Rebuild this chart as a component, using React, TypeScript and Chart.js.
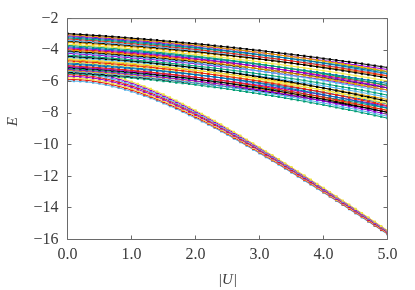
import { useEffect, useRef } from 'react';
import { Chart, registerables } from 'chart.js';

Chart.register(...registerables);

const FONT = '"Liberation Serif", "DejaVu Serif", serif';

// |U| grid
const U = [
  0.0, 0.1, 0.2, 0.3, 0.4, 0.5, 0.6, 0.7, 0.8, 0.9,
  1.0, 1.1, 1.2, 1.3, 1.4, 1.5, 1.6, 1.7, 1.8, 1.9,
  2.0, 2.1, 2.2, 2.3, 2.4, 2.5, 2.6, 2.7, 2.8, 2.9,
  3.0, 3.1, 3.2, 3.3, 3.4, 3.5, 3.6, 3.7, 3.8, 3.9,
  4.0, 4.1, 4.2, 4.3, 4.4, 4.5, 4.6, 4.7, 4.8, 4.9,
  5.0,
];

const X_TICKS = [0, 1, 2, 3, 4, 5];
const X_TICK_LABELS = ['0.0', '1.0', '2.0', '3.0', '4.0', '5.0'];
const Y_TICKS = [-16, -14, -12, -10, -8, -6, -4, -2];
const Y_TICK_LABELS = ['\u221216', '\u221214', '\u221212', '\u221210', '\u22128', '\u22126', '\u22124', '\u22122'];

// upper band
const A1 = [-2.95,-2.98,-3.00,-3.03,-3.06,-3.08,-3.11,-3.14,-3.17,-3.20,-3.24,-3.27,-3.30,-3.34,-3.37,-3.41,-3.44,-3.48,-3.52,-3.56,-3.59,-3.63,-3.67,-3.72,-3.76,-3.80,-3.84,-3.89,-3.93,-3.98,-4.02,-4.07,-4.12,-4.17,-4.22,-4.27,-4.32,-4.37,-4.42,-4.47,-4.53,-4.58,-4.64,-4.69,-4.75,-4.80,-4.86,-4.92,-4.98,-5.04,-5.10];
const A2 = [-3.08,-3.11,-3.13,-3.16,-3.19,-3.21,-3.24,-3.27,-3.30,-3.33,-3.37,-3.40,-3.43,-3.47,-3.50,-3.54,-3.57,-3.61,-3.65,-3.69,-3.72,-3.76,-3.80,-3.85,-3.89,-3.93,-3.97,-4.02,-4.06,-4.11,-4.15,-4.20,-4.25,-4.30,-4.35,-4.40,-4.45,-4.50,-4.55,-4.60,-4.66,-4.71,-4.77,-4.82,-4.88,-4.93,-4.99,-5.05,-5.11,-5.17,-5.23];
const A3 = [-3.22,-3.25,-3.27,-3.30,-3.33,-3.35,-3.38,-3.41,-3.44,-3.47,-3.51,-3.54,-3.57,-3.61,-3.64,-3.68,-3.71,-3.75,-3.79,-3.83,-3.86,-3.90,-3.94,-3.99,-4.03,-4.07,-4.11,-4.16,-4.20,-4.25,-4.29,-4.34,-4.39,-4.44,-4.49,-4.54,-4.59,-4.64,-4.69,-4.74,-4.80,-4.85,-4.91,-4.96,-5.02,-5.07,-5.13,-5.19,-5.25,-5.31,-5.37];
const A4 = [-3.36,-3.39,-3.41,-3.44,-3.47,-3.49,-3.52,-3.55,-3.58,-3.61,-3.65,-3.68,-3.71,-3.75,-3.78,-3.82,-3.85,-3.89,-3.93,-3.97,-4.00,-4.04,-4.08,-4.13,-4.17,-4.21,-4.25,-4.30,-4.34,-4.39,-4.43,-4.48,-4.53,-4.58,-4.63,-4.68,-4.73,-4.78,-4.83,-4.88,-4.94,-4.99,-5.05,-5.10,-5.16,-5.21,-5.27,-5.33,-5.39,-5.45,-5.51];
const A5 = [-3.50,-3.53,-3.55,-3.58,-3.61,-3.63,-3.66,-3.69,-3.72,-3.75,-3.79,-3.82,-3.85,-3.89,-3.92,-3.96,-3.99,-4.03,-4.07,-4.11,-4.14,-4.18,-4.22,-4.27,-4.31,-4.35,-4.39,-4.44,-4.48,-4.53,-4.57,-4.62,-4.67,-4.72,-4.77,-4.82,-4.87,-4.92,-4.97,-5.02,-5.08,-5.13,-5.19,-5.24,-5.30,-5.35,-5.41,-5.47,-5.53,-5.59,-5.65];
const B1 = [-3.62,-3.64,-3.67,-3.70,-3.72,-3.75,-3.78,-3.81,-3.84,-3.87,-3.91,-3.94,-3.97,-4.01,-4.04,-4.08,-4.12,-4.16,-4.20,-4.24,-4.28,-4.32,-4.37,-4.41,-4.46,-4.50,-4.55,-4.60,-4.64,-4.69,-4.75,-4.80,-4.85,-4.90,-4.96,-5.01,-5.07,-5.12,-5.18,-5.24,-5.30,-5.36,-5.42,-5.48,-5.55,-5.61,-5.68,-5.74,-5.81,-5.88,-5.95];
const B2 = [-3.78,-3.80,-3.83,-3.86,-3.88,-3.91,-3.94,-3.97,-4.00,-4.03,-4.07,-4.10,-4.13,-4.17,-4.20,-4.24,-4.28,-4.32,-4.36,-4.40,-4.44,-4.48,-4.53,-4.57,-4.62,-4.66,-4.71,-4.76,-4.80,-4.85,-4.91,-4.96,-5.01,-5.06,-5.12,-5.17,-5.23,-5.28,-5.34,-5.40,-5.46,-5.52,-5.58,-5.64,-5.71,-5.77,-5.84,-5.90,-5.97,-6.04,-6.11];
const B3 = [-3.92,-3.94,-3.97,-4.00,-4.02,-4.05,-4.08,-4.11,-4.14,-4.17,-4.21,-4.24,-4.27,-4.31,-4.34,-4.38,-4.42,-4.46,-4.50,-4.54,-4.58,-4.62,-4.67,-4.71,-4.76,-4.80,-4.85,-4.90,-4.94,-4.99,-5.05,-5.10,-5.15,-5.20,-5.26,-5.31,-5.37,-5.42,-5.48,-5.54,-5.60,-5.66,-5.72,-5.78,-5.85,-5.91,-5.98,-6.04,-6.11,-6.18,-6.25];
const B4 = [-4.06,-4.08,-4.11,-4.14,-4.16,-4.19,-4.22,-4.25,-4.28,-4.31,-4.35,-4.38,-4.41,-4.45,-4.48,-4.52,-4.56,-4.60,-4.64,-4.68,-4.72,-4.76,-4.81,-4.85,-4.90,-4.94,-4.99,-5.04,-5.08,-5.13,-5.19,-5.24,-5.29,-5.34,-5.40,-5.45,-5.51,-5.56,-5.62,-5.68,-5.74,-5.80,-5.86,-5.92,-5.99,-6.05,-6.12,-6.18,-6.25,-6.32,-6.39];
const B5 = [-4.20,-4.22,-4.25,-4.28,-4.30,-4.33,-4.36,-4.39,-4.42,-4.45,-4.49,-4.52,-4.55,-4.59,-4.62,-4.66,-4.70,-4.74,-4.78,-4.82,-4.86,-4.90,-4.95,-4.99,-5.04,-5.08,-5.13,-5.18,-5.22,-5.27,-5.33,-5.38,-5.43,-5.48,-5.54,-5.59,-5.65,-5.70,-5.76,-5.82,-5.88,-5.94,-6.00,-6.06,-6.13,-6.19,-6.26,-6.32,-6.39,-6.46,-6.53];
const C1 = [-4.32,-4.34,-4.37,-4.39,-4.42,-4.45,-4.48,-4.51,-4.54,-4.57,-4.61,-4.64,-4.68,-4.71,-4.75,-4.79,-4.83,-4.87,-4.91,-4.96,-5.00,-5.05,-5.09,-5.14,-5.19,-5.24,-5.29,-5.34,-5.40,-5.45,-5.51,-5.56,-5.62,-5.68,-5.74,-5.80,-5.86,-5.92,-5.99,-6.05,-6.12,-6.19,-6.26,-6.33,-6.40,-6.47,-6.54,-6.62,-6.69,-6.77,-6.85];
const C2 = [-4.46,-4.48,-4.51,-4.53,-4.56,-4.59,-4.62,-4.65,-4.68,-4.71,-4.75,-4.78,-4.82,-4.85,-4.89,-4.93,-4.97,-5.01,-5.05,-5.10,-5.14,-5.19,-5.23,-5.28,-5.33,-5.38,-5.43,-5.48,-5.54,-5.59,-5.65,-5.70,-5.76,-5.82,-5.88,-5.94,-6.00,-6.06,-6.13,-6.19,-6.26,-6.33,-6.40,-6.47,-6.54,-6.61,-6.68,-6.76,-6.83,-6.91,-6.99];
const C3 = [-4.60,-4.62,-4.65,-4.67,-4.70,-4.73,-4.76,-4.79,-4.82,-4.85,-4.89,-4.92,-4.96,-4.99,-5.03,-5.07,-5.11,-5.15,-5.19,-5.24,-5.28,-5.33,-5.37,-5.42,-5.47,-5.52,-5.57,-5.62,-5.68,-5.73,-5.79,-5.84,-5.90,-5.96,-6.02,-6.08,-6.14,-6.20,-6.27,-6.33,-6.40,-6.47,-6.54,-6.61,-6.68,-6.75,-6.82,-6.90,-6.97,-7.05,-7.13];
const C4 = [-4.74,-4.76,-4.79,-4.81,-4.84,-4.87,-4.90,-4.93,-4.96,-4.99,-5.03,-5.06,-5.10,-5.13,-5.17,-5.21,-5.25,-5.29,-5.33,-5.38,-5.42,-5.47,-5.51,-5.56,-5.61,-5.66,-5.71,-5.76,-5.82,-5.87,-5.93,-5.98,-6.04,-6.10,-6.16,-6.22,-6.28,-6.34,-6.41,-6.47,-6.54,-6.61,-6.68,-6.75,-6.82,-6.89,-6.96,-7.04,-7.11,-7.19,-7.27];
const C5 = [-4.88,-4.90,-4.93,-4.95,-4.98,-5.01,-5.04,-5.07,-5.10,-5.13,-5.17,-5.20,-5.24,-5.27,-5.31,-5.35,-5.39,-5.43,-5.47,-5.52,-5.56,-5.61,-5.65,-5.70,-5.75,-5.80,-5.85,-5.90,-5.96,-6.01,-6.07,-6.12,-6.18,-6.24,-6.30,-6.36,-6.42,-6.48,-6.55,-6.61,-6.68,-6.75,-6.82,-6.89,-6.96,-7.03,-7.10,-7.18,-7.25,-7.33,-7.41];
const D1 = [-4.98,-5.00,-5.03,-5.06,-5.08,-5.11,-5.14,-5.17,-5.21,-5.24,-5.28,-5.32,-5.35,-5.39,-5.44,-5.48,-5.52,-5.57,-5.61,-5.66,-5.71,-5.76,-5.82,-5.87,-5.92,-5.98,-6.04,-6.10,-6.16,-6.22,-6.28,-6.35,-6.41,-6.48,-6.55,-6.62,-6.69,-6.76,-6.84,-6.91,-6.99,-7.07,-7.15,-7.23,-7.31,-7.39,-7.48,-7.56,-7.65,-7.74,-7.83];
const D2 = [-5.10,-5.12,-5.15,-5.18,-5.20,-5.23,-5.26,-5.29,-5.33,-5.36,-5.40,-5.44,-5.47,-5.51,-5.56,-5.60,-5.64,-5.69,-5.73,-5.78,-5.83,-5.88,-5.94,-5.99,-6.04,-6.10,-6.16,-6.22,-6.28,-6.34,-6.40,-6.47,-6.53,-6.60,-6.67,-6.74,-6.81,-6.88,-6.96,-7.03,-7.11,-7.19,-7.27,-7.35,-7.43,-7.51,-7.60,-7.68,-7.77,-7.86,-7.95];
const D3 = [-5.22,-5.24,-5.27,-5.30,-5.32,-5.35,-5.38,-5.41,-5.45,-5.48,-5.52,-5.56,-5.59,-5.63,-5.68,-5.72,-5.76,-5.81,-5.85,-5.90,-5.95,-6.00,-6.06,-6.11,-6.16,-6.22,-6.28,-6.34,-6.40,-6.46,-6.52,-6.59,-6.65,-6.72,-6.79,-6.86,-6.93,-7.00,-7.08,-7.15,-7.23,-7.31,-7.39,-7.47,-7.55,-7.63,-7.72,-7.80,-7.89,-7.98,-8.07];
const D4 = [-5.34,-5.36,-5.39,-5.42,-5.44,-5.47,-5.50,-5.53,-5.57,-5.60,-5.64,-5.68,-5.71,-5.75,-5.80,-5.84,-5.88,-5.93,-5.97,-6.02,-6.07,-6.12,-6.18,-6.23,-6.28,-6.34,-6.40,-6.46,-6.52,-6.58,-6.64,-6.71,-6.77,-6.84,-6.91,-6.98,-7.05,-7.12,-7.20,-7.27,-7.35,-7.43,-7.51,-7.59,-7.67,-7.75,-7.84,-7.92,-8.01,-8.10,-8.19];
const D5 = [-5.46,-5.48,-5.51,-5.54,-5.56,-5.59,-5.62,-5.65,-5.69,-5.72,-5.76,-5.80,-5.83,-5.87,-5.92,-5.96,-6.00,-6.05,-6.09,-6.14,-6.19,-6.24,-6.30,-6.35,-6.40,-6.46,-6.52,-6.58,-6.64,-6.70,-6.76,-6.83,-6.89,-6.96,-7.03,-7.10,-7.17,-7.24,-7.32,-7.39,-7.47,-7.55,-7.63,-7.71,-7.79,-7.87,-7.96,-8.04,-8.13,-8.22,-8.31];
const E1 = [-3.02,-3.04,-3.07,-3.10,-3.12,-3.15,-3.18,-3.21,-3.24,-3.27,-3.31,-3.34,-3.37,-3.41,-3.44,-3.48,-3.52,-3.56,-3.60,-3.64,-3.68,-3.72,-3.77,-3.81,-3.86,-3.90,-3.95,-4.00,-4.04,-4.09,-4.15,-4.20,-4.25,-4.30,-4.36,-4.41,-4.47,-4.52,-4.58,-4.64,-4.70,-4.76,-4.82,-4.88,-4.95,-5.01,-5.08,-5.14,-5.21,-5.28,-5.35];
const E2 = [-3.15,-3.17,-3.20,-3.23,-3.25,-3.28,-3.31,-3.34,-3.37,-3.40,-3.44,-3.47,-3.50,-3.54,-3.57,-3.61,-3.65,-3.69,-3.73,-3.77,-3.81,-3.85,-3.90,-3.94,-3.99,-4.03,-4.08,-4.13,-4.17,-4.22,-4.28,-4.33,-4.38,-4.43,-4.49,-4.54,-4.60,-4.65,-4.71,-4.77,-4.83,-4.89,-4.95,-5.01,-5.08,-5.14,-5.21,-5.27,-5.34,-5.41,-5.48];
const E3 = [-3.29,-3.31,-3.34,-3.37,-3.39,-3.42,-3.45,-3.48,-3.51,-3.54,-3.58,-3.61,-3.64,-3.68,-3.71,-3.75,-3.79,-3.83,-3.87,-3.91,-3.95,-3.99,-4.04,-4.08,-4.13,-4.17,-4.22,-4.27,-4.31,-4.36,-4.42,-4.47,-4.52,-4.57,-4.63,-4.68,-4.74,-4.79,-4.85,-4.91,-4.97,-5.03,-5.09,-5.15,-5.22,-5.28,-5.35,-5.41,-5.48,-5.55,-5.62];
const E4 = [-3.43,-3.45,-3.48,-3.51,-3.53,-3.56,-3.59,-3.62,-3.65,-3.68,-3.72,-3.75,-3.78,-3.82,-3.85,-3.89,-3.93,-3.97,-4.01,-4.05,-4.09,-4.13,-4.18,-4.22,-4.27,-4.31,-4.36,-4.41,-4.45,-4.50,-4.56,-4.61,-4.66,-4.71,-4.77,-4.82,-4.88,-4.93,-4.99,-5.05,-5.11,-5.17,-5.23,-5.29,-5.36,-5.42,-5.49,-5.55,-5.62,-5.69,-5.76];
const F1 = [-3.70,-3.72,-3.75,-3.77,-3.80,-3.83,-3.86,-3.89,-3.92,-3.95,-3.99,-4.02,-4.06,-4.09,-4.13,-4.17,-4.21,-4.25,-4.29,-4.34,-4.38,-4.43,-4.47,-4.52,-4.57,-4.62,-4.67,-4.72,-4.78,-4.83,-4.89,-4.94,-5.00,-5.06,-5.12,-5.18,-5.24,-5.30,-5.37,-5.43,-5.50,-5.57,-5.64,-5.71,-5.78,-5.85,-5.92,-6.00,-6.07,-6.15,-6.23];
const F2 = [-3.85,-3.87,-3.90,-3.92,-3.95,-3.98,-4.01,-4.04,-4.07,-4.10,-4.14,-4.17,-4.21,-4.24,-4.28,-4.32,-4.36,-4.40,-4.44,-4.49,-4.53,-4.58,-4.62,-4.67,-4.72,-4.77,-4.82,-4.87,-4.93,-4.98,-5.04,-5.09,-5.15,-5.21,-5.27,-5.33,-5.39,-5.45,-5.52,-5.58,-5.65,-5.72,-5.79,-5.86,-5.93,-6.00,-6.07,-6.15,-6.22,-6.30,-6.38];
const F3 = [-3.99,-4.01,-4.04,-4.06,-4.09,-4.12,-4.15,-4.18,-4.21,-4.24,-4.28,-4.31,-4.35,-4.38,-4.42,-4.46,-4.50,-4.54,-4.58,-4.63,-4.67,-4.72,-4.76,-4.81,-4.86,-4.91,-4.96,-5.01,-5.07,-5.12,-5.18,-5.23,-5.29,-5.35,-5.41,-5.47,-5.53,-5.59,-5.66,-5.72,-5.79,-5.86,-5.93,-6.00,-6.07,-6.14,-6.21,-6.29,-6.36,-6.44,-6.52];
const F4 = [-4.13,-4.15,-4.18,-4.20,-4.23,-4.26,-4.29,-4.32,-4.35,-4.38,-4.42,-4.45,-4.49,-4.52,-4.56,-4.60,-4.64,-4.68,-4.72,-4.77,-4.81,-4.86,-4.90,-4.95,-5.00,-5.05,-5.10,-5.15,-5.21,-5.26,-5.32,-5.37,-5.43,-5.49,-5.55,-5.61,-5.67,-5.73,-5.80,-5.86,-5.93,-6.00,-6.07,-6.14,-6.21,-6.28,-6.35,-6.43,-6.50,-6.58,-6.66];
const G1 = [-4.39,-4.41,-4.44,-4.47,-4.49,-4.52,-4.55,-4.58,-4.62,-4.65,-4.69,-4.73,-4.76,-4.80,-4.85,-4.89,-4.93,-4.98,-5.02,-5.07,-5.12,-5.17,-5.23,-5.28,-5.33,-5.39,-5.45,-5.51,-5.57,-5.63,-5.69,-5.76,-5.82,-5.89,-5.96,-6.03,-6.10,-6.17,-6.25,-6.32,-6.40,-6.48,-6.56,-6.64,-6.72,-6.80,-6.89,-6.97,-7.06,-7.15,-7.24];
const G2 = [-4.53,-4.55,-4.58,-4.61,-4.63,-4.66,-4.69,-4.72,-4.76,-4.79,-4.83,-4.87,-4.90,-4.94,-4.99,-5.03,-5.07,-5.12,-5.16,-5.21,-5.26,-5.31,-5.37,-5.42,-5.47,-5.53,-5.59,-5.65,-5.71,-5.77,-5.83,-5.90,-5.96,-6.03,-6.10,-6.17,-6.24,-6.31,-6.39,-6.46,-6.54,-6.62,-6.70,-6.78,-6.86,-6.94,-7.03,-7.11,-7.20,-7.29,-7.38];
const G3 = [-4.67,-4.69,-4.72,-4.75,-4.77,-4.80,-4.83,-4.86,-4.90,-4.93,-4.97,-5.01,-5.04,-5.08,-5.13,-5.17,-5.21,-5.26,-5.30,-5.35,-5.40,-5.45,-5.51,-5.56,-5.61,-5.67,-5.73,-5.79,-5.85,-5.91,-5.97,-6.04,-6.10,-6.17,-6.24,-6.31,-6.38,-6.45,-6.53,-6.60,-6.68,-6.76,-6.84,-6.92,-7.00,-7.08,-7.17,-7.25,-7.34,-7.43,-7.52];
const G4 = [-4.81,-4.83,-4.86,-4.89,-4.91,-4.94,-4.97,-5.00,-5.04,-5.07,-5.11,-5.15,-5.18,-5.22,-5.27,-5.31,-5.35,-5.40,-5.44,-5.49,-5.54,-5.59,-5.65,-5.70,-5.75,-5.81,-5.87,-5.93,-5.99,-6.05,-6.11,-6.18,-6.24,-6.31,-6.38,-6.45,-6.52,-6.59,-6.67,-6.74,-6.82,-6.90,-6.98,-7.06,-7.14,-7.22,-7.31,-7.39,-7.48,-7.57,-7.66];
const H1 = [-5.04,-5.06,-5.09,-5.11,-5.14,-5.17,-5.20,-5.23,-5.26,-5.29,-5.33,-5.36,-5.40,-5.43,-5.47,-5.51,-5.55,-5.59,-5.63,-5.68,-5.72,-5.77,-5.81,-5.86,-5.91,-5.96,-6.01,-6.06,-6.12,-6.17,-6.23,-6.28,-6.34,-6.40,-6.46,-6.52,-6.58,-6.64,-6.71,-6.77,-6.84,-6.91,-6.98,-7.05,-7.12,-7.19,-7.26,-7.34,-7.41,-7.49,-7.57];
const H2 = [-5.16,-5.18,-5.21,-5.23,-5.26,-5.29,-5.32,-5.35,-5.38,-5.41,-5.45,-5.48,-5.52,-5.55,-5.59,-5.63,-5.67,-5.71,-5.75,-5.80,-5.84,-5.89,-5.93,-5.98,-6.03,-6.08,-6.13,-6.18,-6.24,-6.29,-6.35,-6.40,-6.46,-6.52,-6.58,-6.64,-6.70,-6.76,-6.83,-6.89,-6.96,-7.03,-7.10,-7.17,-7.24,-7.31,-7.38,-7.46,-7.53,-7.61,-7.69];
const H3 = [-5.28,-5.30,-5.33,-5.35,-5.38,-5.41,-5.44,-5.47,-5.50,-5.53,-5.57,-5.60,-5.64,-5.67,-5.71,-5.75,-5.79,-5.83,-5.87,-5.92,-5.96,-6.01,-6.05,-6.10,-6.15,-6.20,-6.25,-6.30,-6.36,-6.41,-6.47,-6.52,-6.58,-6.64,-6.70,-6.76,-6.82,-6.88,-6.95,-7.01,-7.08,-7.15,-7.22,-7.29,-7.36,-7.43,-7.50,-7.58,-7.65,-7.73,-7.81];
const H4 = [-5.40,-5.42,-5.45,-5.47,-5.50,-5.53,-5.56,-5.59,-5.62,-5.65,-5.69,-5.72,-5.76,-5.79,-5.83,-5.87,-5.91,-5.95,-5.99,-6.04,-6.08,-6.13,-6.17,-6.22,-6.27,-6.32,-6.37,-6.42,-6.48,-6.53,-6.59,-6.64,-6.70,-6.76,-6.82,-6.88,-6.94,-7.00,-7.07,-7.13,-7.20,-7.27,-7.34,-7.41,-7.48,-7.55,-7.62,-7.70,-7.77,-7.85,-7.93];

// lower (diving) band
const L1 = [-5.25,-5.26,-5.28,-5.32,-5.38,-5.45,-5.53,-5.63,-5.74,-5.86,-6.00,-6.14,-6.30,-6.46,-6.63,-6.81,-7.00,-7.20,-7.40,-7.61,-7.82,-8.04,-8.26,-8.48,-8.71,-8.95,-9.18,-9.42,-9.67,-9.91,-10.16,-10.41,-10.66,-10.91,-11.17,-11.42,-11.68,-11.94,-12.20,-12.47,-12.73,-12.99,-13.26,-13.53,-13.79,-14.06,-14.33,-14.60,-14.87,-15.15,-15.42];
const L2 = [-5.35,-5.36,-5.38,-5.42,-5.47,-5.54,-5.63,-5.72,-5.83,-5.95,-6.08,-6.23,-6.38,-6.54,-6.71,-6.89,-7.08,-7.27,-7.47,-7.68,-7.89,-8.10,-8.32,-8.55,-8.78,-9.01,-9.24,-9.48,-9.72,-9.97,-10.21,-10.46,-10.71,-10.96,-11.22,-11.47,-11.73,-11.99,-12.25,-12.51,-12.77,-13.04,-13.30,-13.57,-13.83,-14.10,-14.37,-14.64,-14.91,-15.18,-15.45];
const L3 = [-5.45,-5.46,-5.48,-5.52,-5.57,-5.64,-5.72,-5.82,-5.92,-6.04,-6.17,-6.31,-6.47,-6.63,-6.80,-6.97,-7.16,-7.35,-7.55,-7.75,-7.96,-8.17,-8.39,-8.61,-8.84,-9.07,-9.30,-9.54,-9.78,-10.02,-10.27,-10.51,-10.76,-11.01,-11.27,-11.52,-11.78,-12.03,-12.29,-12.55,-12.82,-13.08,-13.34,-13.61,-13.87,-14.14,-14.41,-14.68,-14.95,-15.22,-15.49];
const L4 = [-5.55,-5.56,-5.58,-5.62,-5.67,-5.74,-5.82,-5.91,-6.02,-6.13,-6.26,-6.40,-6.55,-6.71,-6.88,-7.05,-7.23,-7.42,-7.62,-7.82,-8.03,-8.24,-8.46,-8.68,-8.90,-9.13,-9.36,-9.60,-9.84,-10.08,-10.32,-10.57,-10.81,-11.06,-11.31,-11.57,-11.82,-12.08,-12.34,-12.60,-12.86,-13.12,-13.38,-13.65,-13.91,-14.18,-14.45,-14.72,-14.99,-15.26,-15.53];
const L5 = [-5.65,-5.66,-5.68,-5.72,-5.77,-5.83,-5.91,-6.00,-6.11,-6.22,-6.35,-6.49,-6.64,-6.79,-6.96,-7.13,-7.31,-7.50,-7.69,-7.89,-8.10,-8.31,-8.52,-8.74,-8.96,-9.19,-9.42,-9.66,-9.89,-10.13,-10.37,-10.62,-10.86,-11.11,-11.36,-11.62,-11.87,-12.13,-12.38,-12.64,-12.90,-13.16,-13.43,-13.69,-13.95,-14.22,-14.49,-14.75,-15.02,-15.29,-15.56];
const L6 = [-5.75,-5.76,-5.78,-5.82,-5.87,-5.93,-6.01,-6.10,-6.20,-6.31,-6.44,-6.58,-6.72,-6.88,-7.04,-7.21,-7.39,-7.57,-7.77,-7.96,-8.17,-8.37,-8.59,-8.81,-9.03,-9.25,-9.48,-9.71,-9.95,-10.19,-10.43,-10.67,-10.92,-11.16,-11.41,-11.66,-11.92,-12.17,-12.43,-12.69,-12.95,-13.21,-13.47,-13.73,-14.00,-14.26,-14.53,-14.79,-15.06,-15.33,-15.60];
const L7 = [-5.85,-5.86,-5.88,-5.91,-5.96,-6.03,-6.10,-6.19,-6.29,-6.40,-6.53,-6.66,-6.81,-6.96,-7.12,-7.29,-7.47,-7.65,-7.84,-8.03,-8.24,-8.44,-8.65,-8.87,-9.09,-9.31,-9.54,-9.77,-10.01,-10.24,-10.48,-10.72,-10.97,-11.21,-11.46,-11.71,-11.97,-12.22,-12.47,-12.73,-12.99,-13.25,-13.51,-13.77,-14.04,-14.30,-14.56,-14.83,-15.10,-15.37,-15.63];
const L8 = [-5.95,-5.96,-5.98,-6.01,-6.06,-6.12,-6.20,-6.29,-6.39,-6.50,-6.62,-6.75,-6.89,-7.04,-7.20,-7.37,-7.54,-7.72,-7.91,-8.11,-8.31,-8.51,-8.72,-8.93,-9.15,-9.37,-9.60,-9.83,-10.06,-10.30,-10.54,-10.78,-11.02,-11.26,-11.51,-11.76,-12.01,-12.27,-12.52,-12.78,-13.03,-13.29,-13.55,-13.81,-14.08,-14.34,-14.60,-14.87,-15.13,-15.40,-15.67];

const BLACK = '#000000';
const PURPLE = '#9400d3';
const GREEN = '#009e73';
const LBLUE = '#56b4e9';
const ORANGE = '#e69f00';
const YELLOW = '#f0e442';
const BLUE = '#0072b2';
const RED = '#e51e10';

const SERIES: [number[], string][] = [
  [A1, BLACK], [E1, ORANGE], [A2, PURPLE], [E2, BLUE], [A3, GREEN], [E3, RED], [A4, LBLUE], [E4, BLACK], [A5, ORANGE],
  [B1, YELLOW], [F1, GREEN], [B2, BLUE], [F2, PURPLE], [B3, RED], [F3, ORANGE], [B4, BLACK], [F4, LBLUE], [B5, PURPLE],
  [C1, GREEN], [G1, BLACK], [C2, LBLUE], [G2, YELLOW], [C3, ORANGE], [G3, RED], [C4, YELLOW], [G4, BLUE], [C5, BLUE],
  [D1, RED], [H1, PURPLE], [D2, BLACK], [H2, GREEN], [D3, PURPLE], [H3, ORANGE], [D4, LBLUE], [H4, BLACK], [D5, GREEN],
  [L1, YELLOW], [L2, PURPLE], [L3, LBLUE], [L4, RED],
  [L5, PURPLE], [L6, YELLOW], [L7, RED], [L8, LBLUE],
];

const AXIS_COLOR = '#6a6a6a';
const TEXT_COLOR = '#3a3a3a';

const boxPlugin = {
  id: 'boxTicks',
  afterDatasetsDraw(chart: any) {
    const { ctx, chartArea } = chart;
    const { left, right, top, bottom } = chartArea;
    const xs = chart.scales.x;
    const ys = chart.scales.y;
    const TL = 4;
    ctx.save();
    ctx.strokeStyle = AXIS_COLOR;
    ctx.lineWidth = 1;
    ctx.beginPath();
    ctx.rect(left, top, right - left, bottom - top);
    for (const v of X_TICKS) {
      const px = Math.round(xs.getPixelForValue(v) - 0.5) + 0.5;
      ctx.moveTo(px, bottom);
      ctx.lineTo(px, bottom - TL);
      ctx.moveTo(px, top);
      ctx.lineTo(px, top + TL);
    }
    for (const v of Y_TICKS) {
      const py = Math.round(ys.getPixelForValue(v) - 0.5) + 0.5;
      ctx.moveTo(left, py);
      ctx.lineTo(left + TL, py);
      ctx.moveTo(right, py);
      ctx.lineTo(right - TL, py);
    }
    ctx.stroke();
    ctx.restore();
  },
};

export default function App() {
  const ref = useRef<HTMLCanvasElement | null>(null);

  useEffect(() => {
    if (!ref.current) return;
    const datasets = SERIES.map(([vals, color]) => ({
      data: U.map((u, i) => ({ x: u, y: vals[i] })),
      borderColor: color,
      backgroundColor: color,
      pointBackgroundColor: color,
      pointBorderWidth: 0,
      pointStyle: 'rect' as const,
      pointRadius: 1.6,
      borderWidth: 1,
      tension: 0,
      fill: false,
    }));
    const chart = new Chart(ref.current, {
      type: 'line',
      data: { datasets },
      options: {
        animation: false,
        responsive: false,
        devicePixelRatio: 1,
        events: [],
        layout: { padding: { top: 14.5, right: 27.5, left: 0, bottom: 0 } },
        plugins: { legend: { display: false }, tooltip: { enabled: false } },
        scales: {
          x: {
            type: 'linear',
            min: 0,
            max: 5,
            afterFit: (s: any) => { s.height = 50.5; },
            afterBuildTicks: (s: any) => { s.ticks = X_TICKS.map((v) => ({ value: v })); },
            grid: { display: false, drawTicks: false },
            border: { display: false },
            ticks: {
              callback: (_v: any, i: number) => X_TICK_LABELS[i],
              font: { family: FONT, size: 16 },
              color: TEXT_COLOR,
              padding: 6,
              maxRotation: 0,
              autoSkip: false,
            },
            title: {
              display: true,
              text: '|U|',
              font: { family: FONT, size: 15, style: 'italic' },
              color: TEXT_COLOR,
              padding: { top: 0, bottom: 1 },
            },
          },
          y: {
            type: 'linear',
            min: -16,
            max: -2,
            afterFit: (s: any) => { s.width = 67.5; },
            afterBuildTicks: (s: any) => { s.ticks = Y_TICKS.map((v) => ({ value: v })); },
            grid: { display: false, drawTicks: false },
            border: { display: false },
            ticks: {
              callback: (_v: any, i: number) => Y_TICK_LABELS[i],
              font: { family: FONT, size: 16 },
              color: TEXT_COLOR,
              padding: 9,
              autoSkip: false,
            },
            title: {
              display: true,
              text: '\u2002\u2002E',
              font: { family: FONT, size: 15, style: 'italic' },
              color: TEXT_COLOR,
              padding: { top: 4, bottom: 0 },
            },
          },
        },
      },
      plugins: [boxPlugin],
    });
    return () => chart.destroy();
  }, []);

  return (
    <div style={{ position: 'fixed', left: 0, top: 0, width: 415, height: 290, background: '#ffffff' }}>
      <canvas ref={ref} width={415} height={290} style={{ display: 'block' }} />
    </div>
  );
}
